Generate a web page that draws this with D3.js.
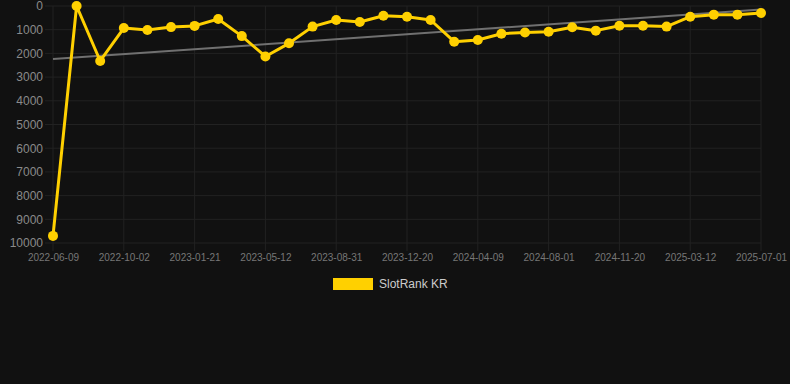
<!DOCTYPE html>
<html>
<head>
<meta charset="utf-8">
<script src="https://cdn.jsdelivr.net/npm/d3@7"></script>
<style>
  html, body { margin: 0; padding: 0; background: #111111; }
  #chart { width: 790px; height: 384px; }
</style>
</head>
<body>
<div id="chart"></div>
<script>
// category dates (only every 3rd is shown on the axis, the others are estimated)
var dates = [
  "2022-06-09", "2022-07-17", "2022-08-24",
  "2022-10-02", "2022-11-08", "2022-12-15",
  "2023-01-21", "2023-02-27", "2023-04-05",
  "2023-05-12", "2023-06-18", "2023-07-25",
  "2023-08-31", "2023-10-07", "2023-11-13",
  "2023-12-20", "2024-01-26", "2024-03-03",
  "2024-04-09", "2024-05-17", "2024-06-24",
  "2024-08-01", "2024-09-07", "2024-10-14",
  "2024-11-20", "2024-12-27", "2025-02-03",
  "2025-03-12", "2025-04-18", "2025-05-25",
  "2025-07-01"
];
var ranks = [
  9700, 0, 2320, 930, 1010, 890, 840, 550, 1270, 2130,
  1575, 870, 590, 675, 410, 450, 590, 1505, 1435, 1170,
  1115, 1085, 900, 1040, 830, 830, 870, 450, 365, 365,
  295
];
var trend = [2240, 150];
var yTicks = [0, 1000, 2000, 3000, 4000, 5000, 6000, 7000, 8000, 9000, 10000];
var seriesName = "SlotRank KR";

var yellow = "#ffd000";
var grid = "#222222";
var tickColor = "#8a8a8a";

var margin = {left: 53, right: 29, top: 6, bottom: 141};
var width = 790 - margin.left - margin.right,
    height = 384 - margin.top - margin.bottom;

var x = d3.scalePoint().domain(dates).range([0, width]);
var y = d3.scaleLinear().domain([0, 10000]).range([0, height]);

var svg = d3.select("#chart").append("svg")
  .attr("width", 790)
  .attr("height", 384)
  .style("font-family", "Arial, 'Liberation Sans', sans-serif");

var g = svg.append("g")
  .attr("transform", "translate(" + margin.left + "," + margin.top + ")");

var shown = dates.filter(function(d, i) { return i % 3 === 0; });

// horizontal grid
g.selectAll(".hgrid")
  .data(yTicks)
  .enter().append("line")
  .attr("x1", -8).attr("x2", width)
  .attr("y1", function(d) { return y(d); })
  .attr("y2", function(d) { return y(d); })
  .style("stroke", grid)
  .style("stroke-width", 1);

// vertical grid
g.selectAll(".vgrid")
  .data(shown)
  .enter().append("line")
  .attr("x1", function(d) { return x(d); })
  .attr("x2", function(d) { return x(d); })
  .attr("y1", 0).attr("y2", height + 8)
  .style("stroke", grid)
  .style("stroke-width", 1);

// Y axis labels
var yAxis = g.append("g")
  .call(d3.axisLeft(y).tickValues(yTicks).tickFormat(d3.format("d")).tickSize(0).tickPadding(10));
yAxis.select(".domain").remove();
yAxis.selectAll("text")
  .style("fill", tickColor)
  .style("font-size", "12px");

// X axis labels
var xAxis = g.append("g")
  .attr("transform", "translate(0," + height + ")")
  .call(d3.axisBottom(x).tickValues(shown).tickSize(0).tickPadding(11));
xAxis.select(".domain").remove();
xAxis.selectAll("text")
  .style("fill", "#777777")
  .style("font-size", "10px");

// trend line
g.append("line")
  .attr("x1", x(dates[0]))
  .attr("x2", x(dates[dates.length - 1]))
  .attr("y1", y(trend[0]))
  .attr("y2", y(trend[1]))
  .style("stroke", "#707070")
  .style("stroke-width", 2);

//Create the line
var line = d3.line()
  .x(function(d, i) { return x(dates[i]); })
  .y(function(d) { return y(d); });

g.append("path")
  .datum(ranks)
  .style("stroke", yellow)
  .style("stroke-width", "3px")
  .style("fill", "none")
  .style("stroke-linejoin", "round")
  .attr("d", line);

g.selectAll(".dot")
  .data(ranks)
  .enter().append("circle")
  .attr("class", "dot")
  .style("fill", yellow)
  .attr("cx", function(d, i) { return x(dates[i]); })
  .attr("cy", function(d) { return y(d); })
  .attr("r", 5);

// legend
var legend = svg.append("g").attr("transform", "translate(333,278)");
legend.append("rect")
  .attr("width", 40).attr("height", 12)
  .style("fill", yellow);
legend.append("text")
  .attr("x", 46).attr("y", 6)
  .attr("dy", "0.35em")
  .style("fill", "#cccccc")
  .style("font-size", "12px")
  .text(seriesName);
</script>
</body>
</html>
